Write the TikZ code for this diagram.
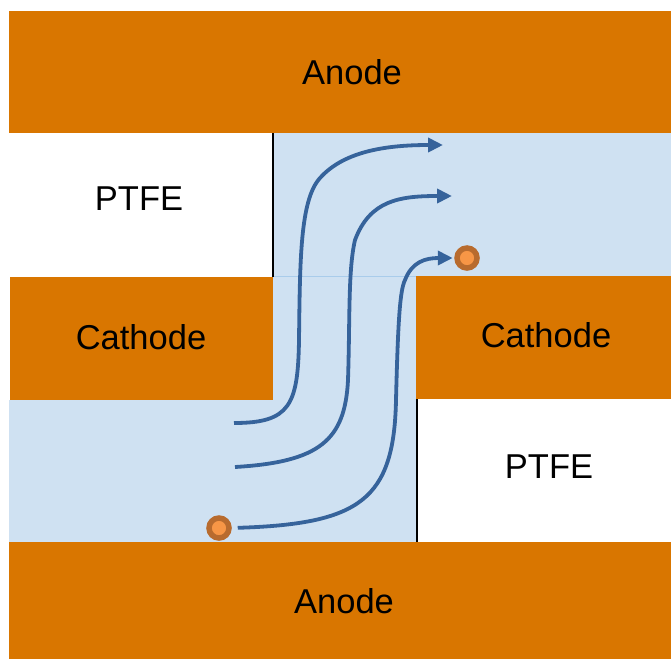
\documentclass[tikz,border=0pt]{standalone}
\usepackage{fontspec}
\setmainfont{Liberation Sans}
\usetikzlibrary{arrows.meta}
\definecolor{electrode}{HTML}{D97600}
\definecolor{channel}{HTML}{CFE1F2}
\definecolor{seam}{HTML}{A9CCEB}
\definecolor{flow}{HTML}{36639B}
\definecolor{particle}{HTML}{F79646}
\definecolor{particleedge}{HTML}{B86B2E}

\begin{document}
\begin{tikzpicture}[x=1pt, y=-1pt,
  every node/.style={font=\fontsize{34.5}{41}\selectfont},
  layer/.style={fill=electrode},
  gap/.style={fill=channel},
  wall/.style={draw=black, line width=1.6pt},
  stream/.style={draw=flow, line width=3.8pt, -{Triangle[length=15pt,width=14pt]}},
  bead/.style={circle, draw=particleedge, fill=particle, line width=5.5pt,
    minimum size=20pt, inner sep=0pt}
]
  \useasboundingbox (0,0) rectangle (671,659);

  % Electrodes and channel
  \fill[layer] (9,11) rectangle (671,133);
  \fill[gap] (273,133) rectangle (671,277);
  \fill[layer] (10,277) rectangle (274,401);
  \fill[layer] (416,276) rectangle (671,399);
  \fill[gap] (273,277) rectangle (416,401);
  \fill[gap] (9,400) rectangle (417,542);
  \fill[layer] (9,542) rectangle (671,659);
  \draw[seam, line width=0.8pt] (273,276.5) -- (416,276.5);

  % PTFE edges
  \draw[wall] (273,133) -- (273,277);
  \draw[wall] (417,399) -- (417,542);

  % Labels
  \node (anodetop) at (352,72) {Anode};
  \node (ptfeleft) at (139,199) {PTFE};
  \node (cathleft) at (141,337) {Cathode};
  \node (cathright) at (546,335) {Cathode};
  \node (pteright) at (549,467) {PTFE};
  \node (anodebot) at (344,601) {Anode};

  % Particles
  \node[bead] (beadin) at (219,528) {};
  \node[bead] (beadout) at (467,258) {};

  % Flow lines
  \coordinate (s1) at (234,423);
  \coordinate (e1) at (443,145);
  \coordinate (s2) at (235,467);
  \coordinate (e2) at (452,196);
  \draw[stream] (s1) .. controls (290,423) and (298,405) .. (299,340)
    .. controls (300,260) and (300,200) .. (320,178)
    .. controls (345,150) and (390,145) .. (e1);
  \draw[stream] (s2) .. controls (320,462) and (345,440) .. (348,380)
    .. controls (350,320) and (348,270) .. (355,240)
    .. controls (370,200) and (400,196) .. (e2);
  \draw[stream, shorten <=6pt, shorten >=1.5pt] (beadin.east)
    .. controls (360,524) and (394,500) .. (396,400)
    .. controls (398,320) and (400,290) .. (405,280)
    .. controls (412,262) and (425,258) .. (beadout.west);
\end{tikzpicture}
\end{document}
